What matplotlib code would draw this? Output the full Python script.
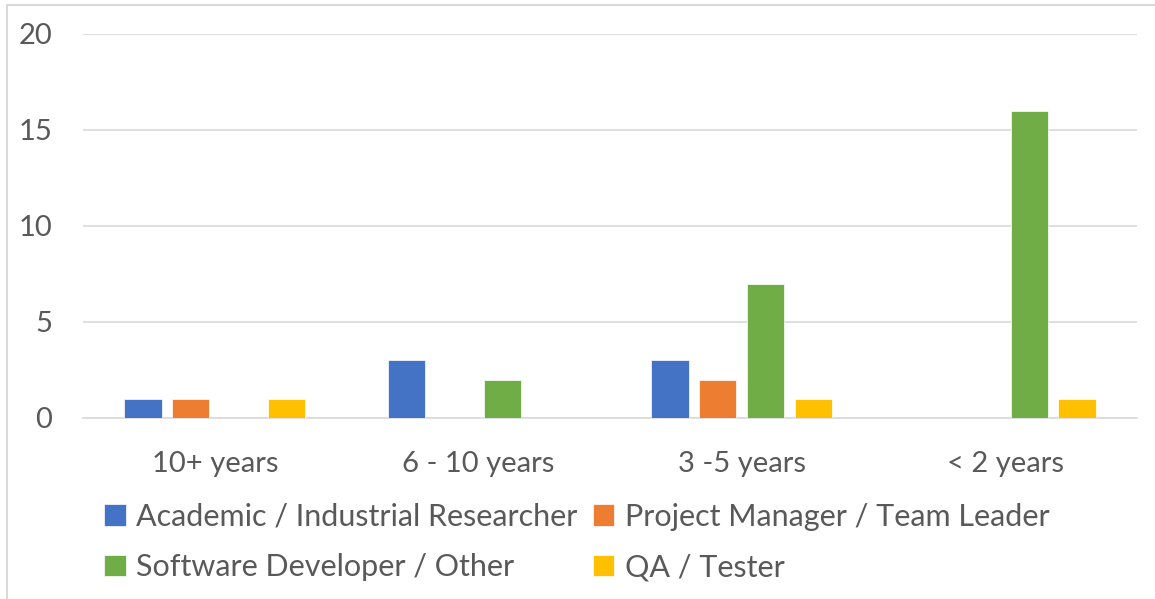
import numpy as np
import matplotlib.pyplot as plt
from matplotlib.patches import Rectangle

# ----------------------------- DATA -----------------------------
categories = ["10+ years", "6 - 10 years", "3 -5 years", "< 2 years"]
series_names = ["Academic / Industrial Researcher", "Project Manager / Team Leader",
                "Software Developer / Other", "QA / Tester"]
academic = [1, 3, 3, 0]
manager = [1, 0, 2, 0]
developer = [0, 2, 7, 16]
tester = [1, 0, 1, 1]
y_ticks = [0, 5, 10, 15, 20]

colors = ["#4472C4", "#ED7D31", "#70AD47", "#FFC000"]
text_color = "#595959"
grid_color = "#D9D9D9"

plt.rcParams["font.family"] = ["Lato", "DejaVu Sans"]

# ----------------------------- FIGURE -----------------------------
fig = plt.figure(figsize=(11.55, 5.99), dpi=100)
ax = fig.add_axes([83 / 1155, 1 - 418 / 599, (1137 - 83) / 1155, (418 - 34) / 599])

# light chart-area border (left and top visible)
fig.patches.append(Rectangle((7 / 1155, -0.1), 1.2, (599 - 5) / 599 + 0.1,
                             transform=fig.transFigure, fill=False,
                             edgecolor="#D9D9D9", linewidth=1.5))

x = np.arange(len(categories))
step = 0.182
width = 0.142
handles = []
for i, (vals, name) in enumerate(zip([academic, manager, developer, tester], series_names)):
    b = ax.bar(x + (i - 1.5) * step, vals, width, color=colors[i], label=name,
               edgecolor="white", linewidth=0.5, zorder=3)
    handles.append(b)

ax.set_xlim(-0.5, 3.5)
ax.set_ylim(0, 20)
ax.set_yticks(y_ticks)
ax.set_xticks(x)
ax.set_xticklabels(categories)
ax.yaxis.grid(True, color=grid_color, linewidth=1.2, zorder=0)
ax.set_axisbelow(True)

for side in ["top", "right", "left"]:
    ax.spines[side].set_visible(False)
ax.spines["bottom"].set_color(grid_color)
ax.spines["bottom"].set_linewidth(1.2)

ax.tick_params(axis="y", length=0, pad=22, labelsize=21, labelcolor=text_color)
ax.tick_params(axis="x", length=0, pad=24, labelsize=21, labelcolor=text_color)

# legend: row-wise order -> reorder for column-major fill
order = [0, 2, 1, 3]
leg = fig.legend([handles[k] for k in order], [series_names[k] for k in order],
                 ncol=2, loc="center", bbox_to_anchor=(577 / 1155, 1 - 542 / 599),
                 frameon=False, fontsize=22, handlelength=0.7, handleheight=0.7,
                 handletextpad=0.35, columnspacing=0.5, labelspacing=0.75)
for t in leg.get_texts():
    t.set_color(text_color)

fig.savefig("out.png", dpi=100)
